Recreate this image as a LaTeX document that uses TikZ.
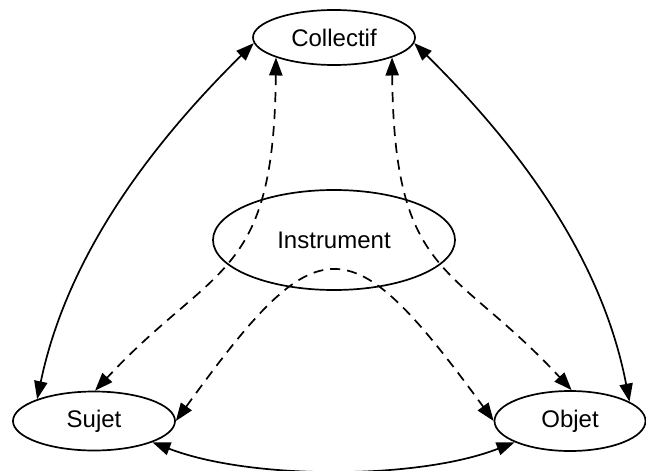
\documentclass[tikz,border=0pt]{standalone}
\usepackage{fontspec}
\setmainfont{Liberation Sans}
\usetikzlibrary{shapes.geometric,arrows.meta}

\begin{document}
\begin{tikzpicture}[
  x=0.5pt, y=-0.5pt,
  font=\fontsize{12}{14}\selectfont,
  >={Triangle[length=9pt, width=6.6pt]},
  pole/.style={draw, ellipse, line width=0.85pt, inner sep=0pt},
  link/.style={line width=0.85pt, <->},
  med/.style={line width=0.85pt, <->, dash pattern=on 5pt off 3.5pt},
]
  \useasboundingbox (0,0) rectangle (646,470);
  % Poles of the triangle
  \node[pole, minimum width=81pt, minimum height=27.5pt] (coll) at (334,37.5) {Collectif};
  \node[pole, minimum width=121pt, minimum height=50pt] (instr) at (334,240) {Instrument};
  \node[pole, minimum width=81pt, minimum height=29.5pt] (suj) at (94,421) {Sujet};
  \node[pole, minimum width=75.5pt, minimum height=30pt] (obj) at (570,421) {Objet};
  % Direct relations
  \draw[link] (coll.184) .. controls (115,180) and (60,290) .. (suj.159);
  \draw[link] (coll.-4) .. controls (553,180) and (608,290) .. (obj.18);
  \draw[link] (suj.-20) .. controls (250,480) and (418,480) .. (obj.201);
  % Mediated relations, through the instrument
  \draw[med] (coll.199) .. controls (274,280) and (215,262) .. (suj.88);
  \draw[med] (coll.-19) .. controls (394,280) and (453,262) .. (obj.87);
  \draw[med] (suj.east) .. controls (319,223) and (349,223) .. (obj.west);
\end{tikzpicture}
\end{document}
